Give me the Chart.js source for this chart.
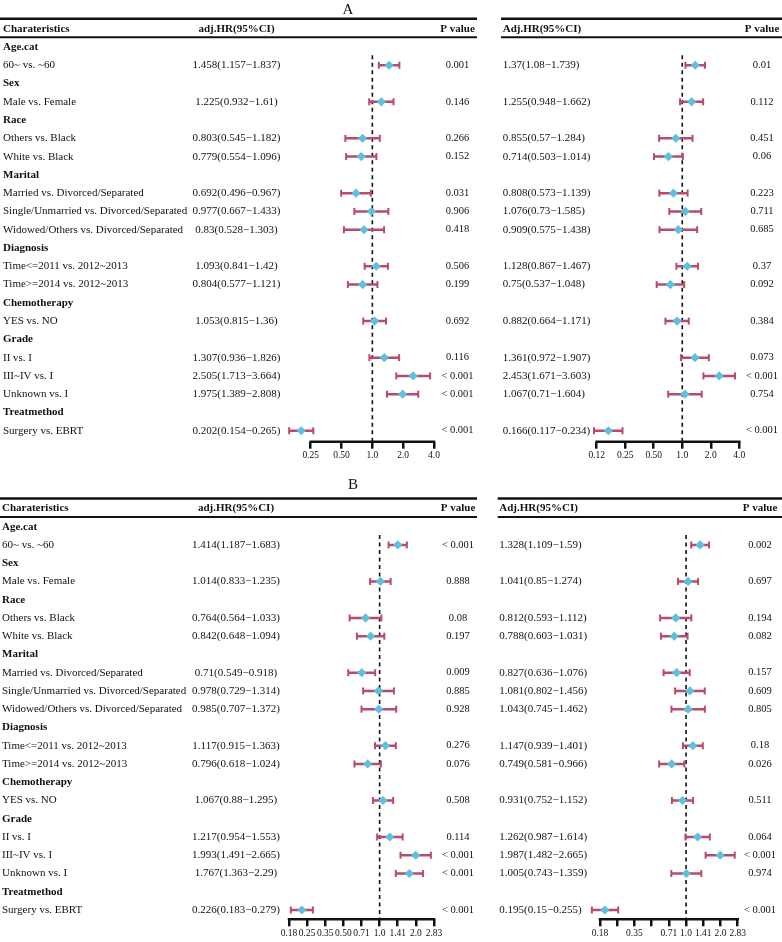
<!DOCTYPE html>
<html>
<head>
<meta charset="utf-8">
<script src="https://cdn.jsdelivr.net/npm/chart.js@4.4.0/dist/chart.umd.min.js"></script>
<style>
  body { margin: 0; background: #fff; }
  #wrap { position: relative; width: 782px; height: 942px; }
  canvas { position: absolute; }
</style>
</head>
<body>
<div id="wrap">
  <canvas id="aL" width="480" height="470" style="left:0;top:0"></canvas>
  <canvas id="aR" width="292" height="470" style="left:490px;top:0"></canvas>
  <canvas id="bL" width="480" height="472" style="left:0;top:470px"></canvas>
  <canvas id="bR" width="292" height="472" style="left:490px;top:470px"></canvas>
</div>
<script>
// rows (shared by all four plots)
const rowLabels = ['Age.cat', '60~ vs. ~60', 'Sex', 'Male vs. Female', 'Race', 'Others vs. Black', 'White vs. Black',
  'Marital', 'Married vs. Divorced/Separated', 'Single/Unmarried vs. Divorced/Separated', 'Widowed/Others vs. Divorced/Separated',
  'Diagnosis', 'Time<=2011 vs. 2012~2013', 'Time>=2014 vs. 2012~2013', 'Chemotherapy', 'YES vs. NO',
  'Grade', 'II vs. I', 'III~IV vs. I', 'Unknown vs. I', 'Treatmethod', 'Surgery vs. EBRT'];
const isGroup = [1, 0, 1, 0, 1, 0, 0, 1, 0, 0, 0, 1, 0, 0, 1, 0, 1, 0, 0, 0, 1, 0];

// panel A, left
const hrA1 = [null, 1.458, null, 1.225, null, 0.803, 0.779, null, 0.692, 0.977, 0.83, null, 1.093, 0.804, null, 1.053, null, 1.307, 2.505, 1.975, null, 0.202];
const loA1 = [null, 1.157, null, 0.932, null, 0.545, 0.554, null, 0.496, 0.667, 0.528, null, 0.841, 0.577, null, 0.815, null, 0.936, 1.713, 1.389, null, 0.154];
const hiA1 = [null, 1.837, null, 1.61, null, 1.182, 1.096, null, 0.967, 1.433, 1.303, null, 1.42, 1.121, null, 1.36, null, 1.826, 3.664, 2.808, null, 0.265];
const pA1 = ['', '0.001', '', '0.146', '', '0.266', '0.152', '', '0.031', '0.906', '0.418', '', '0.506', '0.199', '', '0.692', '', '0.116', '< 0.001', '< 0.001', '', '< 0.001'];

// panel A, right
const hrA2 = [null, 1.37, null, 1.255, null, 0.855, 0.714, null, 0.808, 1.076, 0.909, null, 1.128, 0.75, null, 0.882, null, 1.361, 2.453, 1.067, null, 0.166];
const loA2 = [null, 1.08, null, 0.948, null, 0.57, 0.503, null, 0.573, 0.73, 0.575, null, 0.867, 0.537, null, 0.664, null, 0.972, 1.671, 0.71, null, 0.117];
const hiA2 = [null, 1.739, null, 1.662, null, 1.284, 1.014, null, 1.139, 1.585, 1.438, null, 1.467, 1.048, null, 1.171, null, 1.907, 3.603, 1.604, null, 0.234];
const pA2 = ['', '0.01', '', '0.112', '', '0.451', '0.06', '', '0.223', '0.711', '0.685', '', '0.37', '0.092', '', '0.384', '', '0.073', '< 0.001', '0.754', '', '< 0.001'];

// panel B, left
const hrB1 = [null, 1.414, null, 1.014, null, 0.764, 0.842, null, 0.71, 0.978, 0.985, null, 1.117, 0.796, null, 1.067, null, 1.217, 1.993, 1.767, null, 0.226];
const loB1 = [null, 1.187, null, 0.833, null, 0.564, 0.648, null, 0.549, 0.729, 0.707, null, 0.915, 0.618, null, 0.88, null, 0.954, 1.491, 1.363, null, 0.183];
const hiB1 = [null, 1.683, null, 1.235, null, 1.033, 1.094, null, 0.918, 1.314, 1.372, null, 1.363, 1.024, null, 1.295, null, 1.553, 2.665, 2.29, null, 0.279];
const pB1 = ['', '< 0.001', '', '0.888', '', '0.08', '0.197', '', '0.009', '0.885', '0.928', '', '0.276', '0.076', '', '0.508', '', '0.114', '< 0.001', '< 0.001', '', '< 0.001'];

// panel B, right
const hrB2 = [null, 1.328, null, 1.041, null, 0.812, 0.788, null, 0.827, 1.081, 1.043, null, 1.147, 0.749, null, 0.931, null, 1.262, 1.987, 1.005, null, 0.195];
const loB2 = [null, 1.109, null, 0.85, null, 0.593, 0.603, null, 0.636, 0.802, 0.745, null, 0.939, 0.581, null, 0.752, null, 0.987, 1.482, 0.743, null, 0.15];
const hiB2 = [null, 1.59, null, 1.274, null, 1.112, 1.031, null, 1.076, 1.456, 1.462, null, 1.401, 0.966, null, 1.152, null, 1.614, 2.665, 1.359, null, 0.255];
const pB2 = ['', '0.002', '', '0.697', '', '0.194', '0.082', '', '0.157', '0.609', '0.805', '', '0.18', '0.026', '', '0.511', '', '0.064', '< 0.001', '0.974', '', '< 0.001'];

// axis ticks
const ticksA1 = [0.25, 0.5, 1, 2, 4];
const tickLabelsA1 = ['0.25', '0.50', '1.0', '2.0', '4.0'];
const ticksA2 = [0.125, 0.25, 0.5, 1, 2, 4];
const tickLabelsA2 = ['0.12', '0.25', '0.50', '1.0', '2.0', '4.0'];
const ticksB = [0.1768, 0.25, 0.3536, 0.5, 0.7071, 1, 1.4142, 2, 2.8284];
const tickLabelsB1 = ['0.18', '0.25', '0.35', '0.50', '0.71', '1.0', '1.41', '2.0', '2.83'];
const tickLabelsB2 = ['0.18', '', '0.35', '', '0.71', '1.0', '1.41', '2.0', '2.83'];

const FONT = '"Liberation Serif", "Times New Roman", serif';
const RED = '#b84a6e';
const BLUE = '#5cc0e2';
const INK = '#111';

function hrText(hr, lo, hi, i) {
  return hr[i] + '(' + lo[i] + '\u2212' + hi[i] + ')';
}

function drawTable(chart, o) {
  var ctx = chart.ctx;
  var ys = chart.scales.y;
  var rowY = function (r) { return ys.getPixelForValue(r); };
  ctx.save();
  ctx.fillStyle = INK;
  ctx.strokeStyle = INK;

  // rules
  ctx.lineWidth = 2.5;
  ctx.beginPath(); ctx.moveTo(o.ruleX0, rowY(-1.55)); ctx.lineTo(o.ruleX1, rowY(-1.55)); ctx.stroke();
  ctx.lineWidth = 2;
  ctx.beginPath(); ctx.moveTo(o.ruleX0, rowY(-0.53)); ctx.lineTo(o.ruleX1, rowY(-0.53)); ctx.stroke();

  ctx.textBaseline = 'middle';
  var bold = 'bold 11px ' + FONT;
  var reg = '11px ' + FONT;
  var pf = '10.5px ' + FONT;

  if (o.side == 'left') {
    ctx.font = '15px ' + FONT;
    ctx.textAlign = 'center';
    ctx.fillText(o.title, o.titleX, o.titleY);

    ctx.font = bold;
    ctx.textAlign = 'left';
    ctx.fillText('Charateristics', o.labelX, rowY(-1));
    ctx.textAlign = 'center';
    ctx.fillText('adj.HR(95%CI)', o.hrX, rowY(-1));
    ctx.fillText('P value', o.pX, rowY(-1));

    rowLabels.forEach(function (lab, i) {
      var y = rowY(i);
      ctx.textAlign = 'left';
      ctx.font = isGroup[i] ? bold : reg;
      ctx.fillText(lab, o.labelX, y);
      if (isGroup[i]) return;
      ctx.textAlign = 'center';
      ctx.font = reg;
      ctx.fillText(hrText(o.hr, o.lo, o.hi, i), o.hrX, y);
      ctx.font = pf;
      ctx.fillText(o.p[i], o.pX, y);
    });
  } else {
    ctx.font = bold;
    ctx.textAlign = 'left';
    ctx.fillText('Adj.HR(95%CI)', o.hrX, rowY(-1));
    ctx.textAlign = 'center';
    ctx.fillText('P value', o.pX, rowY(-1));

    rowLabels.forEach(function (lab, i) {
      if (isGroup[i]) return;
      var y = rowY(i);
      ctx.textAlign = 'left';
      ctx.font = reg;
      ctx.fillText(hrText(o.hr, o.lo, o.hi, i), o.hrX, y);
      ctx.textAlign = 'center';
      ctx.font = pf;
      ctx.fillText(o.p[i], o.pX, y);
    });
  }
  ctx.restore();
}

function forest(id, o) {
  var whisk = [], caps = [], pts = [];
  o.hr.forEach(function (v, i) {
    if (v == null) return;
    whisk.push({ x: o.lo[i], y: i }, { x: o.hi[i], y: i }, { x: NaN, y: NaN });
    caps.push({ x: o.lo[i], y: i }, { x: o.hi[i], y: i });
    pts.push({ x: v, y: i });
  });

  var t0 = o.ticks[0], t1 = o.ticks[o.ticks.length - 1];
  // the scale starts a bit below the first tick so that marks left of it still draw;
  // work out the chart-area edge so that the first/last ticks land on px0/px1
  var span = o.px1 - o.px0;
  var left = o.px0 - span * Math.log(t0 / o.xmin) / Math.log(t1 / t0);
  var cw = document.getElementById(id).width;

  return new Chart(document.getElementById(id), {
    type: 'scatter',
    data: {
      datasets: [
        { type: 'scatter', data: pts, pointStyle: 'rectRot', pointRadius: 4.6, pointBackgroundColor: BLUE,
          pointBorderWidth: 0, pointBorderColor: BLUE, order: 0, clip: false },
        { type: 'scatter', data: caps, pointStyle: 'line', pointRotation: 90, pointRadius: 3.5,
          pointBorderColor: RED, pointBorderWidth: 2, order: 1, clip: false },
        { type: 'line', data: whisk, borderColor: RED, borderWidth: 2.5, pointRadius: 0, spanGaps: false,
          order: 2, clip: false },
        { type: 'line', data: [{ x: 1, y: o.ymin }, { x: 1, y: o.ymax }], borderColor: INK, borderWidth: 1.6,
          borderDash: [4, 3.5], pointRadius: 0, order: 3, clip: false },
        // axis line, from first to last tick
        { type: 'line', data: [{ x: t0, y: o.ymax }, { x: t1, y: o.ymax }], borderColor: INK, borderWidth: 2.5,
          borderCapStyle: 'square', pointRadius: 0, order: 4, clip: false }
      ]
    },
    options: {
      responsive: false,
      animation: false,
      devicePixelRatio: 1,
      events: [],
      layout: { padding: { left: left, right: cw - o.px1, top: o.top, bottom: o.bottom } },
      plugins: { legend: { display: false }, tooltip: { enabled: false } },
      scales: {
        x: {
          type: 'logarithmic',
          min: o.xmin,
          max: t1,
          bounds: 'data',
          afterBuildTicks: function (s) { s.ticks = o.ticks.map(function (v) { return { value: v }; }); },
          afterFit: function (s) { s.height = 22; },
          ticks: {
            autoSkip: false, maxRotation: 0, minRotation: 0, padding: 1, color: INK,
            font: { family: FONT, size: 9.5 },
            callback: function (v, i) { return o.labels[i]; }
          },
          grid: { drawOnChartArea: false, drawTicks: true, tickLength: 7, tickWidth: 2.5, lineWidth: 2.5,
                  tickColor: INK, color: INK },
          border: { display: false }
        },
        y: { type: 'linear', reverse: true, min: o.ymin, max: o.ymax, display: false }
      }
    },
    plugins: [{ id: 'table', afterDraw: function (chart) { drawTable(chart, o); } }]
  });
}

forest('aL', {
  side: 'left', title: 'A', titleX: 348, titleY: 10,
  hr: hrA1, lo: loA1, hi: hiA1, p: pA1, ticks: ticksA1, labels: tickLabelsA1,
  xmin: 0.125, px0: 310.7, px1: 434,
  ymin: 0.45, ymax: 21.6, top: 55.2, bottom: 6.3,
  ruleX0: 0, ruleX1: 477, labelX: 3, hrX: 236.5, pX: 457.5
});
forest('aR', {
  side: 'right',
  hr: hrA2, lo: loA2, hi: hiA2, p: pA2, ticks: ticksA2, labels: tickLabelsA2,
  xmin: 0.1, px0: 106.7, px1: 249.3,
  ymin: 0.45, ymax: 21.6, top: 55.2, bottom: 6.3,
  ruleX0: 11, ruleX1: 292, hrX: 12.7, pX: 272
});
forest('bL', {
  side: 'left', title: 'B', titleX: 353, titleY: 15,
  hr: hrB1, lo: loB1, hi: hiB1, p: pB1, ticks: ticksB, labels: tickLabelsB1,
  xmin: 0.15, px0: 289, px1: 434,
  ymin: 0.45, ymax: 21.51, top: 64.9, bottom: 0.7,
  ruleX0: 0, ruleX1: 477, labelX: 2, hrX: 236, pX: 458
});
forest('bR', {
  side: 'right',
  hr: hrB2, lo: loB2, hi: hiB2, p: pB2, ticks: ticksB, labels: tickLabelsB2,
  xmin: 0.125, px0: 110, px1: 247.7,
  ymin: 0.45, ymax: 21.51, top: 64.9, bottom: 0.7,
  ruleX0: 7.7, ruleX1: 292, hrX: 9.3, pX: 270
});
</script>
</body>
</html>
